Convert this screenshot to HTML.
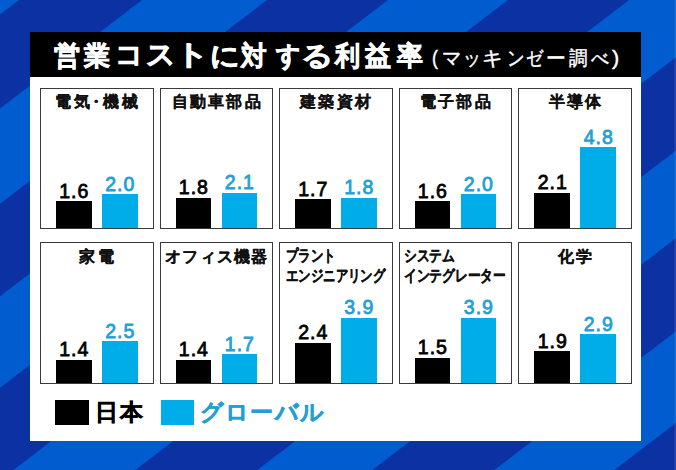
<!DOCTYPE html>
<html><head><meta charset="utf-8"><style>
html,body{margin:0;padding:0;width:676px;height:470px;overflow:hidden;font-family:"Liberation Sans",sans-serif}
#root{position:relative;width:676px;height:470px;overflow:hidden}
.panel{position:absolute;left:30px;top:32px;width:611px;height:409px;background:#fff}
.tbar{position:absolute;left:30px;top:32px;width:611px;height:45px;background:#000}
.tg{position:absolute;color:#fff;font-weight:bold;line-height:32px;-webkit-text-stroke:0.7px #fff;transform-origin:0 0;white-space:nowrap}
.sg{position:absolute;top:45px;color:#fff;font-size:20px;line-height:26px;-webkit-text-stroke:0.4px #fff;transform-origin:0 0}
.box{position:absolute;box-sizing:border-box;border:1.3px solid #3a3a3a}
.lab{position:absolute;text-align:center;font-weight:bold;font-size:16px;letter-spacing:2.3px;text-indent:2.3px;line-height:20px;color:#111;white-space:nowrap;-webkit-text-stroke:0.25px #111}
.lab2{position:absolute;font-weight:bold;font-size:16px;line-height:20.5px;color:#111;white-space:nowrap;transform-origin:0 0;-webkit-text-stroke:0.3px #111}
.bar{position:absolute}
.bar.k{background:#000}
.bar.c{background:#00ADE9}
.val{position:absolute;width:60px;text-align:center;font-size:19.5px;line-height:20px;letter-spacing:1.0px;text-indent:1.0px;-webkit-text-stroke:0.8px currentColor}
.val.k{color:#000}
.val.c{color:#22A0D6}
.lg{position:absolute;top:400px;height:25px}
.lgt{position:absolute;top:398px;font-size:23px;font-weight:bold;line-height:28px;letter-spacing:2px;white-space:nowrap;-webkit-text-stroke:0.45px currentColor}
</style></head><body><div id="root">
<svg width="676" height="470" style="position:absolute;left:0;top:0"><rect width="676" height="470" fill="#0B31A3"/><polygon points="-103.0,0.0 19.0,0.0 -596.7,470.0 -718.7,470.0" fill="#005CCF"/><polygon points="142.0,0.0 267.0,0.0 -348.7,470.0 -473.7,470.0" fill="#005CCF"/><polygon points="388.0,0.0 508.0,0.0 -107.7,470.0 -227.7,470.0" fill="#005CCF"/><polygon points="629.0,0.0 751.0,0.0 135.3,470.0 13.3,470.0" fill="#005CCF"/><polygon points="873.0,0.0 988.0,0.0 372.3,470.0 257.3,470.0" fill="#005CCF"/><polygon points="1110.0,0.0 1230.0,0.0 614.3,470.0 494.3,470.0" fill="#005CCF"/></svg>
<div class="panel"></div><div style="position:absolute;left:674px;top:0;width:2px;height:470px;background:rgba(255,255,255,0.07)"></div>
<div class="tbar"></div>
<div class="tg" style="left:53.50px;top:39.50px;font-size:27px;transform:scaleX(0.969)">営</div><div class="tg" style="left:84.00px;top:39.50px;font-size:27px;transform:scaleX(0.967)">業</div><div class="tg" style="left:210.34px;top:39.50px;font-size:27px;transform:scaleX(1.079)">に</div><div class="tg" style="left:241.15px;top:39.50px;font-size:27px;transform:scaleX(0.950)">対</div><div class="tg" style="left:275.70px;top:39.50px;font-size:27px;transform:scaleX(0.885)">す</div><div class="tg" style="left:301.45px;top:39.50px;font-size:27px;transform:scaleX(1.177)">る</div><div class="tg" style="left:335.33px;top:39.50px;font-size:27px;transform:scaleX(0.933)">利</div><div class="tg" style="left:364.80px;top:39.50px;font-size:27px;transform:scaleX(0.959)">益</div><div class="tg" style="left:396.60px;top:39.50px;font-size:27px;transform:scaleX(0.959)">率</div><div class="tg" style="left:114.94px;top:38.50px;font-size:28px;transform:scaleX(0.986)">コ</div><div class="tg" style="left:145.76px;top:38.50px;font-size:28px;transform:scaleX(1.036)">ス</div><div class="tg" style="left:174.75px;top:38.50px;font-size:28px;transform:scaleX(1.200)">ト</div><div class="sg" style="left:432.42px;transform:scaleX(0.883)">(</div><div class="sg" style="left:441.83px;transform:scaleX(0.971)">マ</div><div class="sg" style="left:462.52px;transform:scaleX(0.893)">ッ</div><div class="sg" style="left:482.14px;transform:scaleX(1.031)">キ</div><div class="sg" style="left:507.46px;transform:scaleX(0.871)">ン</div><div class="sg" style="left:525.54px;transform:scaleX(0.855)">ゼ</div><div class="sg" style="left:546.01px;transform:scaleX(0.989)">ー</div><div class="sg" style="left:568.90px;transform:scaleX(0.932)">調</div><div class="sg" style="left:591.00px;transform:scaleX(0.890)">べ</div><div class="sg" style="left:611.50px;transform:scaleX(1.083)">)</div>
<div class="box" style="left:39.85px;top:87.65px;width:113.80px;height:141.00px"></div>
<div class="lab" style="left:40.0px;top:91.8px;width:113.0px">電気<span style="margin:0 -3.6px">・</span>機械</div>
<div class="bar k" style="left:55.8px;top:201.1px;width:35.8px;height:26.9px"></div>
<div class="bar c" style="left:101.8px;top:194.4px;width:35.8px;height:33.6px"></div>
<div class="val k" style="left:43.7px;top:180.7px">1.6</div>
<div class="val c" style="left:89.7px;top:174.0px">2.0</div>
<div class="box" style="left:159.55px;top:87.65px;width:113.80px;height:141.00px"></div>
<div class="lab" style="left:159.7px;top:91.8px;width:113.0px">自動車部品</div>
<div class="bar k" style="left:175.5px;top:197.8px;width:35.8px;height:30.2px"></div>
<div class="bar c" style="left:221.5px;top:192.7px;width:35.8px;height:35.3px"></div>
<div class="val k" style="left:163.4px;top:177.3px">1.8</div>
<div class="val c" style="left:209.4px;top:172.3px">2.1</div>
<div class="box" style="left:278.95px;top:87.65px;width:113.80px;height:141.00px"></div>
<div class="lab" style="left:279.1px;top:91.8px;width:113.0px">建築資材</div>
<div class="bar k" style="left:294.9px;top:199.4px;width:35.8px;height:28.6px"></div>
<div class="bar c" style="left:340.9px;top:197.8px;width:35.8px;height:30.2px"></div>
<div class="val k" style="left:282.8px;top:179.0px">1.7</div>
<div class="val c" style="left:328.8px;top:177.3px">1.8</div>
<div class="box" style="left:398.55px;top:87.65px;width:113.80px;height:141.00px"></div>
<div class="lab" style="left:398.7px;top:91.8px;width:113.0px">電子部品</div>
<div class="bar k" style="left:414.5px;top:201.1px;width:35.8px;height:26.9px"></div>
<div class="bar c" style="left:460.5px;top:194.4px;width:35.8px;height:33.6px"></div>
<div class="val k" style="left:402.4px;top:180.7px">1.6</div>
<div class="val c" style="left:448.4px;top:174.0px">2.0</div>
<div class="box" style="left:518.35px;top:87.65px;width:113.80px;height:141.00px"></div>
<div class="lab" style="left:518.5px;top:91.8px;width:113.0px">半導体</div>
<div class="bar k" style="left:534.3px;top:192.7px;width:35.8px;height:35.3px"></div>
<div class="bar c" style="left:580.3px;top:147.4px;width:35.8px;height:80.6px"></div>
<div class="val k" style="left:522.2px;top:172.3px">2.1</div>
<div class="val c" style="left:568.2px;top:126.9px">4.8</div>
<div class="box" style="left:39.85px;top:242.35px;width:113.80px;height:141.30px"></div>
<div class="lab" style="left:40.0px;top:246.8px;width:113.0px">家電</div>
<div class="bar k" style="left:55.8px;top:359.5px;width:35.8px;height:23.5px"></div>
<div class="bar c" style="left:101.8px;top:341.0px;width:35.8px;height:42.0px"></div>
<div class="val k" style="left:43.7px;top:339.0px">1.4</div>
<div class="val c" style="left:89.7px;top:320.6px">2.5</div>
<div class="box" style="left:159.55px;top:242.35px;width:113.80px;height:141.30px"></div>
<div class="lab" style="left:159.7px;top:246.8px;width:113.0px;letter-spacing:1.2px;text-indent:1.2px">オフィス機器</div>
<div class="bar k" style="left:175.5px;top:359.5px;width:35.8px;height:23.5px"></div>
<div class="bar c" style="left:221.5px;top:354.4px;width:35.8px;height:28.6px"></div>
<div class="val k" style="left:163.4px;top:339.0px">1.4</div>
<div class="val c" style="left:209.4px;top:334.0px">1.7</div>
<div class="box" style="left:278.95px;top:242.35px;width:113.80px;height:141.30px"></div>
<div class="lab2" style="left:286.1px;top:245.5px;transform:scaleX(0.776)">プラント<br>エンジニアリング</div>
<div class="bar k" style="left:294.9px;top:342.7px;width:35.8px;height:40.3px"></div>
<div class="bar c" style="left:340.9px;top:317.5px;width:35.8px;height:65.5px"></div>
<div class="val k" style="left:282.8px;top:322.2px">2.4</div>
<div class="val c" style="left:328.8px;top:297.0px">3.9</div>
<div class="box" style="left:398.55px;top:242.35px;width:113.80px;height:141.30px"></div>
<div class="lab2" style="left:404.0px;top:245.5px;transform:scaleX(0.796)">システム<br>インテグレーター</div>
<div class="bar k" style="left:414.5px;top:357.8px;width:35.8px;height:25.2px"></div>
<div class="bar c" style="left:460.5px;top:317.5px;width:35.8px;height:65.5px"></div>
<div class="val k" style="left:402.4px;top:337.4px">1.5</div>
<div class="val c" style="left:448.4px;top:297.0px">3.9</div>
<div class="box" style="left:518.35px;top:242.35px;width:113.80px;height:141.30px"></div>
<div class="lab" style="left:518.5px;top:246.8px;width:113.0px">化学</div>
<div class="bar k" style="left:534.3px;top:351.1px;width:35.8px;height:31.9px"></div>
<div class="bar c" style="left:580.3px;top:334.3px;width:35.8px;height:48.7px"></div>
<div class="val k" style="left:522.2px;top:330.6px">1.9</div>
<div class="val c" style="left:568.2px;top:313.8px">2.9</div>
<div class="lg" style="left:54.6px;width:34.2px;background:#000"></div>
<div class="lgt" style="left:95px;color:#000">日本</div>
<div class="lg" style="left:160.7px;width:33.8px;background:#00ADE9"></div>
<div class="lgt" style="left:200px;letter-spacing:1.2px;color:#22A0D6">グローバル</div>
</div></body></html>
